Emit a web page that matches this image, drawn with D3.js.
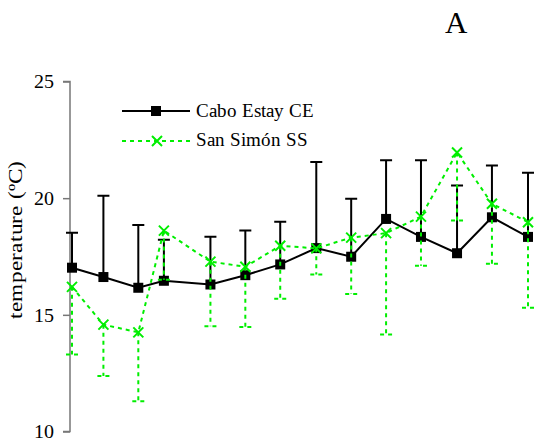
<!DOCTYPE html>
<html>
<head>
<meta charset="utf-8">
<script src="https://cdn.jsdelivr.net/npm/d3@7"></script>
<style>
  @font-face { font-family: "ChartSerif"; src: local("Liberation Serif"), local("LiberationSerif-Regular"), local("LiberationSerif"); }
  body { margin: 0; background: #fff; }
  svg text { font-family: "ChartSerif", "Liberation Serif", serif !important; }
</style>
</head>
<body>
<div class="chart"></div>
<script>
// sampling day (days since first sample)
var sampleDay = [0, 27, 57, 79, 119, 149, 179, 210, 240, 270, 300, 331, 361, 392];

// Cabo Estay CE: mean and SD (upper bar only)
var ceMean = [17.02, 16.62, 16.16, 16.46, 16.30, 16.70, 17.16, 17.86, 17.49, 19.11, 18.34, 17.64, 19.18, 18.34];
var ceSD   = [1.50, 3.48, 2.69, 1.76, 2.05, 1.91, 1.83, 3.69, 2.49, 2.51, 3.28, 2.90, 2.22, 2.75];

// San Simón SS: mean and SD (lower bar only)
var ssMean = [16.20, 14.58, 14.25, 18.61, 17.28, 17.06, 17.96, 17.85, 18.31, 18.50, 19.21, 21.96, 19.76, 18.97];
var ssSD   = [2.90, 2.20, 2.95, 2.11, 2.77, 2.58, 2.27, 1.12, 2.42, 4.34, 2.11, 2.92, 2.57, 3.67];

var yTicks = [10, 15, 20, 25];
var seriesNames = ["Cabo Estay CE", "San Simón SS"];

var width = 541, height = 441;
var green = "#00ee00";
var serif = "ChartSerif, Liberation Serif, serif";

var svg = d3.select(".chart").append("svg")
    .attr("width", width)
    .attr("height", height)
    .attr("font-family", serif);

var x = d3.scaleLinear().domain([0, 392]).range([72, 528]);
var y = d3.scaleLinear().domain([10, 25]).range([431.5, 81.5]);

var yAxis = d3.axisLeft(y).tickValues(yTicks).tickSize(7).tickPadding(9);

var gy = svg.append("g")
    .attr("transform", "translate(70,0)")
    .call(yAxis)
    .attr("font-family", serif)
    .attr("font-size", 20);
gy.select(".domain").attr("stroke", "#777").attr("stroke-width", 1.5)
  .attr("d", "M-7," + y(25) + "H0V" + y(10) + "H-7");
gy.selectAll(".tick line").attr("stroke", "#777").attr("stroke-width", 1.5);
gy.selectAll(".tick text")
  .attr("fill", "#000")
  .attr("font-family", serif)
  .attr("font-size", 20);

svg.append("text")
   .attr("transform", "translate(22,240) rotate(-90)")
   .attr("text-anchor", "middle")
   .attr("font-family", serif)
   .attr("font-size", 20)
   .attr("textLength", 158)
   .attr("lengthAdjust", "spacingAndGlyphs")
   .text("temperature (ºC)");

svg.append("text")
   .attr("x", 456).attr("y", 33)
   .attr("text-anchor", "middle")
   .attr("font-family", serif)
   .attr("font-size", 31)
   .text("A");

var ce = sampleDay.map(function(d, i) { return {day: d, mean: ceMean[i], sd: ceSD[i]}; });
var ss = sampleDay.map(function(d, i) { return {day: d, mean: ssMean[i], sd: ssSD[i]}; });

var line = d3.line()
    .x(function(d) { return x(d.day); })
    .y(function(d) { return y(d.mean); });

// black series: error bars up
var gce = svg.append("g");
gce.selectAll(".eb").data(ce).enter().append("path")
   .attr("fill", "none").attr("stroke", "#000").attr("stroke-width", 2)
   .attr("d", function(d) {
     var top = y(d.mean + d.sd);
     return "M" + x(d.day) + "," + y(d.mean) + "V" + top +
            "M" + (x(d.day) - 6) + "," + top + "H" + (x(d.day) + 6);
   });
gce.append("path").datum(ce)
   .attr("fill", "none").attr("stroke", "#000").attr("stroke-width", 2)
   .attr("d", line);
gce.selectAll(".sq").data(ce).enter().append("rect")
   .attr("x", function(d) { return x(d.day) - 5; })
   .attr("y", function(d) { return y(d.mean) - 5; })
   .attr("width", 10).attr("height", 10)
   .attr("fill", "#000");

// green series: error bars down
var gss = svg.append("g");
gss.selectAll(".eb").data(ss).enter().append("path")
   .attr("fill", "none").attr("stroke", green).attr("stroke-width", 2)
   .attr("stroke-dasharray", "4,4")
   .attr("d", function(d) {
     var bot = y(d.mean - d.sd);
     return "M" + x(d.day) + "," + y(d.mean) + "V" + bot +
            "M" + (x(d.day) - 6) + "," + bot + "H" + (x(d.day) + 6);
   });
gss.append("path").datum(ss)
   .attr("fill", "none").attr("stroke", green).attr("stroke-width", 2)
   .attr("stroke-dasharray", "4,4")
   .attr("d", line);

function cross(cx, cy) {
  return "M" + (cx - 5) + "," + (cy - 5) + "L" + (cx + 5) + "," + (cy + 5) +
         "M" + (cx - 5) + "," + (cy + 5) + "L" + (cx + 5) + "," + (cy - 5);
}
gss.selectAll(".xm").data(ss).enter().append("path")
   .attr("fill", "none").attr("stroke", green).attr("stroke-width", 2)
   .attr("d", function(d) { return cross(x(d.day), y(d.mean)); });

// legend
var lg = svg.append("g");
lg.append("line").attr("x1", 122).attr("x2", 190).attr("y1", 111).attr("y2", 111)
  .attr("stroke", "#000").attr("stroke-width", 2);
lg.append("rect").attr("x", 151).attr("y", 106).attr("width", 10).attr("height", 10).attr("fill", "#000");
lg.append("line").attr("x1", 122).attr("x2", 190).attr("y1", 141).attr("y2", 141)
  .attr("stroke", green).attr("stroke-width", 2).attr("stroke-dasharray", "4,4");
lg.append("path").attr("d", cross(157, 141)).attr("fill", "none")
  .attr("stroke", green).attr("stroke-width", 2);
lg.selectAll(".lt").data(seriesNames).enter().append("text")
  .attr("x", 196)
  .attr("y", function(d, i) { return 117 + i * 29; })
  .attr("font-family", serif)
  .attr("font-size", 19)
  .text(function(d) { return d; });
</script>
</body>
</html>
